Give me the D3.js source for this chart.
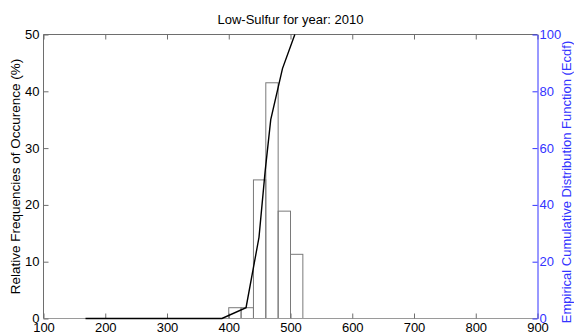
<!DOCTYPE html>
<html>
<head>
<meta charset="utf-8">
<script src="https://cdn.jsdelivr.net/npm/d3@7"></script>
<style>
  html, body { margin: 0; padding: 0; background: #fff; }
  svg { display: block; font-family: "Liberation Sans", Arial, sans-serif; }
</style>
</head>
<body>
<svg id="chart" width="574" height="334"></svg>
<script>
// Histogram bins (lower / upper edges) and relative frequencies in percent
const binStart = [400, 420, 440, 460, 480, 500];
const binEnd   = [420, 440, 460, 480, 500, 520];
const relFreq  = [1.9, 1.9, 24.4, 41.5, 18.9, 11.3];

// Empirical cumulative distribution function (percent)
const ecdfX = [168, 389, 428, 449, 459, 468, 487, 507];
const ecdfY = [0, 0, 3.8, 28.6, 52, 70, 88, 100];

// Tick labels
const xTicks = [100, 200, 300, 400, 500, 600, 700, 800, 900];
const yTicksLeft = [0, 10, 20, 30, 40, 50];
const yTicksRight = [0, 20, 40, 60, 80, 100];

const titleText = "Low-Sulfur for year: 2010";
const leftLabel = "Relative Frequencies of Occurence (%)";
const rightLabel = "Empirical Cumulative Distribution Function (Ecdf)";

const svg = d3.select("#chart");
const m = { left: 43.5, right: 537.5, top: 34.5, bottom: 318.5 };

const x = d3.scaleLinear().domain([100, 900]).range([m.left, m.right]);
const yL = d3.scaleLinear().domain([0, 50]).range([m.bottom, m.top]);
const yR = d3.scaleLinear().domain([0, 100]).range([m.bottom, m.top]);

const axisGray = "#6e6e6e";
const blue = "#3333ff";
const tickLen = 5;
const fs = 13;

// Histogram bars
svg.append("g").selectAll("rect")
  .data(relFreq)
  .join("rect")
  .attr("x", (d, i) => x(binStart[i]))
  .attr("width", (d, i) => x(binEnd[i]) - x(binStart[i]))
  .attr("y", d => yL(d))
  .attr("height", d => yL(0) - yL(d))
  .attr("fill", "none")
  .attr("stroke", "#7a7a7a")
  .attr("stroke-width", 1);

// Plot box: top, bottom and left edges
const box = svg.append("g").attr("stroke", axisGray).attr("stroke-width", 1).attr("fill", "none");
box.append("line").attr("x1", m.left).attr("x2", m.right).attr("y1", m.top).attr("y2", m.top);
box.append("line").attr("x1", m.left).attr("x2", m.right).attr("y1", m.bottom).attr("y2", m.bottom).attr("stroke", "#9a9a9a");
box.append("line").attr("x1", m.left).attr("x2", m.left).attr("y1", m.top).attr("y2", m.bottom);

// Bottom axis (inward ticks)
const xAxis = svg.append("g")
  .attr("transform", `translate(0,${m.bottom})`)
  .call(d3.axisBottom(x).tickValues(xTicks).tickSizeInner(-tickLen).tickSizeOuter(0));
xAxis.select(".domain").remove();
xAxis.selectAll("line").attr("stroke", axisGray);
xAxis.selectAll("text")
  .attr("font-size", fs).attr("fill", "#000")
  .attr("y", 13.5).attr("dy", null);

// Top ticks (inward)
const xTop = svg.append("g")
  .attr("transform", `translate(0,${m.top})`)
  .call(d3.axisTop(x).tickValues(xTicks).tickSizeInner(-tickLen).tickSizeOuter(0).tickFormat(""));
xTop.select(".domain").remove();
xTop.selectAll("line").attr("stroke", axisGray);

// Left axis
const yAxisL = svg.append("g")
  .attr("transform", `translate(${m.left},0)`)
  .call(d3.axisLeft(yL).tickValues(yTicksLeft).tickSizeInner(-tickLen).tickSizeOuter(0).tickPadding(4));
yAxisL.select(".domain").remove();
yAxisL.selectAll("line").attr("stroke", axisGray);
yAxisL.selectAll("text").attr("font-size", fs).attr("fill", "#000").attr("dy", "0.3em");

// Right axis (blue)
const yAxisR = svg.append("g")
  .attr("transform", `translate(${m.right},0)`)
  .call(d3.axisRight(yR).tickValues(yTicksRight).tickSizeInner(-tickLen).tickSizeOuter(0).tickPadding(2));
yAxisR.select(".domain").attr("stroke", blue);
yAxisR.selectAll("line").attr("stroke", blue);
yAxisR.selectAll("text").attr("font-size", fs).attr("fill", blue).attr("dy", "0.3em");

// ECDF line
const line = d3.line().x((d, i) => x(ecdfX[i])).y(d => yR(d));
svg.append("path")
  .datum(ecdfY)
  .attr("d", line)
  .attr("fill", "none")
  .attr("stroke", "#000")
  .attr("stroke-width", 1.4);

// Title
svg.append("text")
  .attr("x", (m.left + m.right) / 2)
  .attr("y", 24)
  .attr("text-anchor", "middle")
  .attr("font-size", fs)
  .attr("fill", "#000")
  .text(titleText);

// Axis labels
svg.append("text")
  .attr("transform", `translate(20,${(m.top + m.bottom) / 2}) rotate(-90)`)
  .attr("text-anchor", "middle")
  .attr("font-size", 13.5)
  .attr("fill", "#000")
  .text(leftLabel);

svg.append("text")
  .attr("transform", `translate(571,${182}) rotate(-90)`)
  .attr("text-anchor", "middle")
  .attr("font-size", fs)
  .attr("fill", blue)
  .text(rightLabel);
</script>
</body>
</html>
